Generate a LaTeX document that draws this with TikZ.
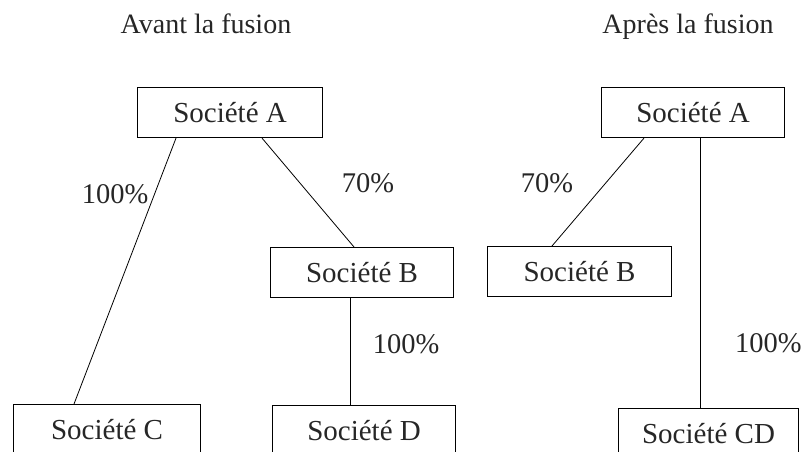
\documentclass[tikz,border=0pt]{standalone}
\usepackage{fontspec}
\setmainfont{Liberation Serif}
\begin{document}
\begin{tikzpicture}[x=1pt,y=-1pt,
  every node/.style={text=black!85},
  box/.style={draw=black, line width=1.1pt, rectangle, minimum height=50pt, inner sep=0pt, anchor=north west, font=\fontsize{29}{34}\selectfont},
  link/.style={draw=black, line width=0.8pt},
  lbl/.style={inner sep=0pt, font=\fontsize{28.5}{34}\selectfont},
  ttl/.style={inner sep=0pt, anchor=base, font=\fontsize{28}{34}\selectfont}]
\useasboundingbox (0,0) rectangle (802,451);
% titles
\node[ttl] (t1) at (206,33) {Avant la fusion};
\node[ttl] (t2) at (688,33) {Après la fusion};
% left diagram
\node[box, minimum width=185pt] (a1) at (137,87) {Société A};
\node[box, minimum width=183pt] (b1) at (270,247) {Société B};
\node[box, minimum width=187pt] (c1) at (13,404) {Société C};
\node[box, minimum width=183pt] (d1) at (272,405) {Société D};
\draw[link] ([xshift=39pt]a1.south west) -- ([xshift=61pt]c1.north west);
\draw[link] ([xshift=125pt]a1.south west) -- ([xshift=84pt]b1.north west);
\draw[link] ([xshift=80pt]b1.south west) -- ([xshift=78pt]d1.north west);
\node[lbl] (l1) at (115,194) {100\%};
\node[lbl] (l2) at (368,183) {70\%};
\node[lbl] (l3) at (406,344) {100\%};
% right diagram
\node[box, minimum width=183pt] (a2) at (601,87) {Société A};
\node[box, minimum width=184pt] (b2) at (487,246) {Société B};
\node[box, minimum width=180pt] (cd) at (618,408) {Société CD};
\draw[link] ([xshift=43pt]a2.south west) -- ([xshift=65pt]b2.north west);
\draw[link] ([xshift=99pt]a2.south west) -- ([xshift=82pt]cd.north west);
\node[lbl] (l4) at (547,183) {70\%};
\node[lbl, anchor=west] (l5) at (735,343) {100\%};
\end{tikzpicture}
\end{document}
